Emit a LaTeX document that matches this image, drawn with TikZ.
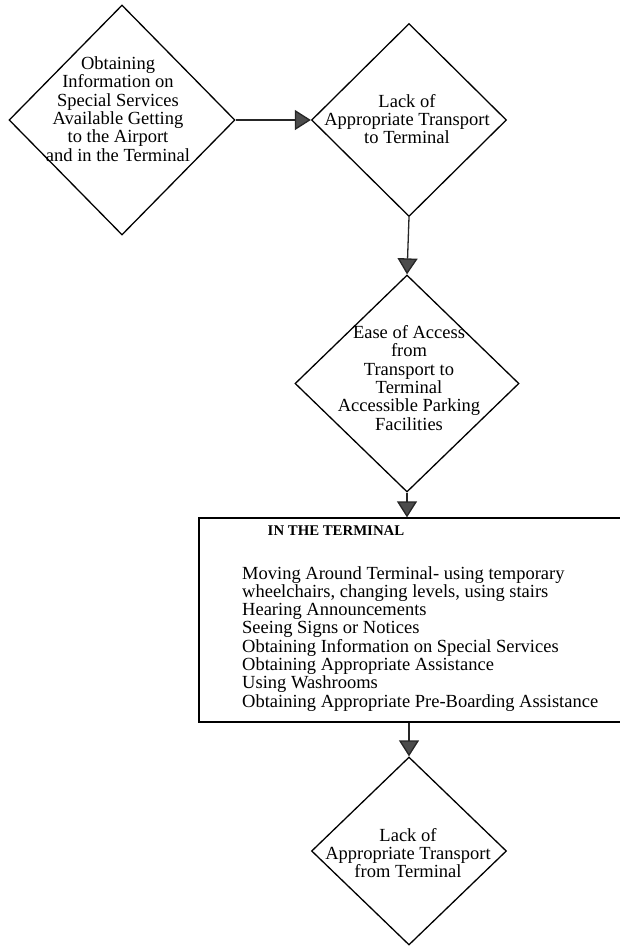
\documentclass[tikz,border=0pt]{standalone}
\usepackage{fontspec}
\setmainfont{Liberation Serif}
\usetikzlibrary{shapes.geometric,arrows.meta}

\tikzset{
  decision/.style={draw, shape=diamond, line width=1.3pt, inner sep=0pt},
  caption/.style={align=center, inner sep=0pt, font=\fontsize{18.5}{18.3}\selectfont},
  listing/.style={align=left, inner sep=0pt, font=\fontsize{18.5}{18.3}\selectfont},
  termbox/.style={draw, rectangle, line width=1.3pt, inner sep=0pt},
  flow/.style={line width=1.3pt, draw=black!85,
    -{Triangle[width=20pt,length=16pt,fill=black!70]}}
}

\begin{document}
\begin{tikzpicture}[x=1pt,y=-1pt]
\useasboundingbox (0,0) rectangle (620,946);
\node[decision, minimum width=226pt, minimum height=230pt] (info) at (122,120) {};
\node[caption] (infotext) at (118,109) {Obtaining\\Information on\\Special Services\\Available Getting\\to the Airport\\and in the Terminal};
\node[decision, minimum width=195pt, minimum height=193pt] (lackto) at (409,120) {};
\node[caption] (lacktotext) at (407,119) {Lack of\\Appropriate Transport\\to Terminal};
\node[decision, minimum width=224pt, minimum height=217pt] (access) at (407,383.5) {};
\node[caption] (accesstext) at (409,378) {Ease of Access\\from\\Transport to\\Terminal\\Accessible Parking\\Facilities};
\node[termbox, minimum width=422pt, minimum height=204pt] (terminal) at (410,620) {};
\node[inner sep=0pt, font=\bfseries\fontsize{14.8}{16}\selectfont] (termtitle) at (336,531) {IN THE TERMINAL};
\node[listing, anchor=north west] (termlist) at (242,566) {Moving Around Terminal- using temporary\\wheelchairs, changing levels, using stairs\\Hearing Announcements\\Seeing Signs or Notices\\Obtaining Information on Special Services\\Obtaining Appropriate Assistance\\Using Washrooms\\Obtaining Appropriate Pre-Boarding Assistance};
\node[decision, minimum width=195pt, minimum height=188pt] (lackfrom) at (409,851) {};
\node[caption] (lackfromtext) at (408,853) {Lack of\\Appropriate Transport\\from Terminal};

\draw[flow] (info.east) -- (lackto.west);
\draw[flow] (lackto.south) -- (access.north);
\draw[flow] (access.south) -- (access.south |- terminal.north);
\draw[flow] (lackfrom.north |- terminal.south) -- (lackfrom.north);
\end{tikzpicture}
\end{document}
